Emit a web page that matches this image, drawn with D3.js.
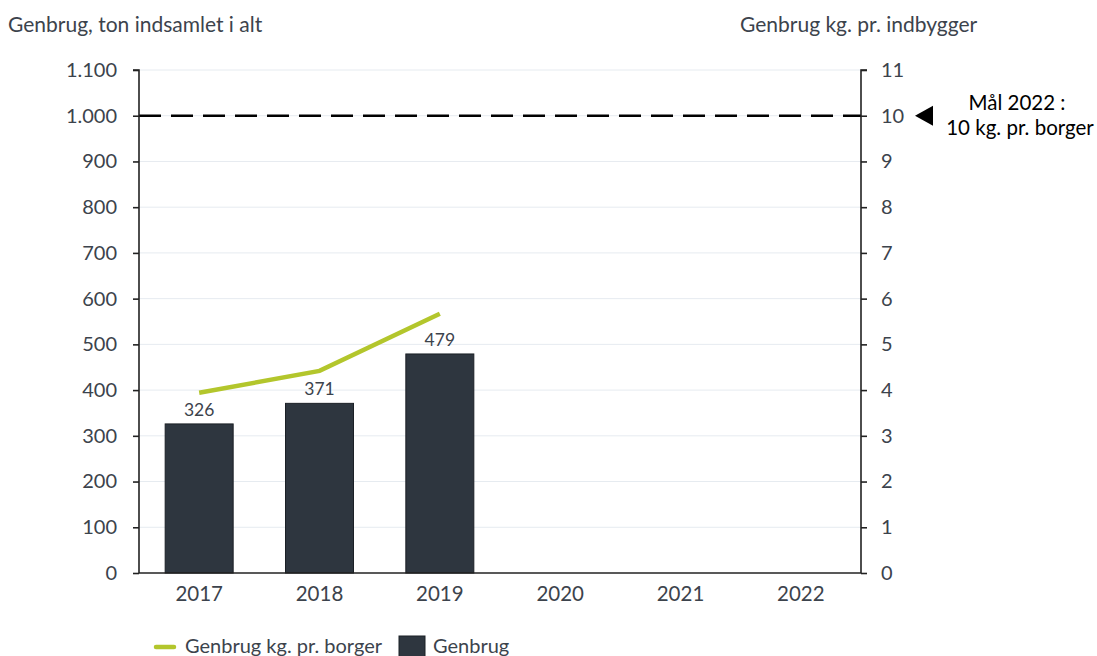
<!DOCTYPE html>
<html>
<head>
<meta charset="utf-8">
<script src="https://cdn.jsdelivr.net/npm/d3@7"></script>
<style>
body { margin: 0; background: #fff; }
svg text { font-family: Lato, "Open Sans", sans-serif; fill: #3c434c; }
</style>
</head>
<body>
<div id="chart"></div>
<script>
var years = ["2017", "2018", "2019", "2020", "2021", "2022"];
var tons = [326, 371, 479, null, null, null];
var kgPerCitizen = [3.94, 4.42, 5.67, null, null, null];
var leftTicks = [0, 100, 200, 300, 400, 500, 600, 700, 800, 900, 1000, 1100];
var rightTicks = [0, 1, 2, 3, 4, 5, 6, 7, 8, 9, 10, 11];
var goalKg = 10;

var width = 1097, height = 656;
var plotL = 139, plotR = 861, plotT = 70, plotB = 573;

var svg = d3.select("#chart").append("svg")
	.attr("width", width)
	.attr("height", height);

var x = d3.scaleBand().domain(years).range([plotL, plotR]).paddingInner(0.435).paddingOuter(0.2175);
var yL = d3.scaleLinear().domain([0, 1100]).range([plotB, plotT]);
var yR = d3.scaleLinear().domain([0, 11]).range([plotB, plotT]);
var fmt = function(d){ return d3.format(",")(d).replace(/,/g, "."); };

/* grid */
svg.append("g").selectAll("line").data(leftTicks.slice(1)).join("line")
	.attr("x1", plotL).attr("x2", plotR)
	.attr("y1", function(d){ return yL(d); }).attr("y2", function(d){ return yL(d); })
	.attr("style", "stroke:#e6ebf0; stroke-width:1px;");

/* bars */
var bd = years.map(function(y, i){ return {year: y, v: tons[i]}; }).filter(function(d){ return d.v != null; });
svg.append("g").selectAll("rect").data(bd).join("rect")
	.attr("x", function(d){ return x(d.year); })
	.attr("y", function(d){ return yL(d.v); })
	.attr("width", x.bandwidth())
	.attr("height", function(d){ return yL(0) - yL(d.v); })
	.attr("fill", "#2e363f")
	.attr("stroke", "#1b2026")
	.attr("stroke-width", 1);

svg.append("g").selectAll("text").data(bd).join("text")
	.attr("x", function(d){ return x(d.year) + x.bandwidth()/2; })
	.attr("y", function(d){ return yL(d.v) - 8; })
	.attr("text-anchor", "middle")
	.attr("font-size", 17.5)
	.text(function(d){ return d.v; });

/* line */
var ld = years.map(function(y, i){ return {year: y, v: kgPerCitizen[i]}; }).filter(function(d){ return d.v != null; });
svg.append("path").datum(ld)
	.attr("d", d3.line().x(function(d){ return x(d.year) + x.bandwidth()/2; }).y(function(d){ return yR(d.v); }))
	.attr("fill", "none")
	.attr("stroke", "#b3c62c")
	.attr("stroke-width", 4.5);

/* goal */
svg.append("line")
	.attr("x1", plotL).attr("x2", plotR)
	.attr("y1", yR(goalKg)).attr("y2", yR(goalKg))
	.attr("style", "stroke:#000; stroke-width:2.5px; stroke-dasharray:22,10;");

/* axes */
var axL = svg.append("g").attr("transform", "translate(" + plotL + ",0)")
	.call(d3.axisLeft(yL).tickValues(leftTicks).tickFormat(fmt).tickSize(6).tickPadding(16));
var axR = svg.append("g").attr("transform", "translate(" + plotR + ",0)")
	.call(d3.axisRight(yR).tickValues(rightTicks).tickSize(6).tickPadding(14));
var axB = svg.append("g").attr("transform", "translate(0," + plotB + ")")
	.call(d3.axisBottom(x).tickSize(0).tickPadding(13));
[axL, axR, axB].forEach(function(a){
	a.selectAll("path, line").attr("stroke", "#222").attr("stroke-width", 1.6);
	a.selectAll("text").attr("font-size", 20).attr("font-family", "Lato, sans-serif").attr("fill", "#3c434c");
});
axB.selectAll("text").attr("font-size", 20.5);
axL.select(".domain").attr("d", "M-6," + plotT + "H0V" + plotB);
axR.select(".domain").attr("d", "M6," + plotT + "H0V" + plotB);
axB.select(".domain").attr("d", "M" + plotL + ",0H" + plotR);

/* titles */
svg.append("text").attr("x", 8).attr("y", 32).attr("font-size", 21).text("Genbrug, ton indsamlet i alt");
svg.append("text").attr("x", 740).attr("y", 32).attr("font-size", 21).text("Genbrug kg. pr. indbygger");

/* goal note */
var gy = yR(goalKg);
svg.append("path")
	.attr("d", "M915," + gy + "L933," + (gy - 10) + "L933," + (gy + 10) + "Z")
	.attr("fill", "#000");
svg.append("text").attr("x", 1017).attr("y", gy - 6).attr("text-anchor", "middle").attr("font-size", 20.5).attr("style", "fill:#000").text("Mål 2022 :");
svg.append("text").attr("x", 1020).attr("y", gy + 19).attr("text-anchor", "middle").attr("font-size", 20.5).attr("style", "fill:#000").text("10 kg. pr. borger");

/* legend */
svg.append("line").attr("x1", 156).attr("x2", 174).attr("y1", 647).attr("y2", 647)
	.attr("stroke", "#b3c62c").attr("stroke-width", 4.5).attr("stroke-linecap", "round");
svg.append("text").attr("x", 185).attr("y", 653).attr("font-size", 20).text("Genbrug kg. pr. borger");
svg.append("rect").attr("x", 399).attr("y", 636).attr("width", 26).attr("height", 26)
	.attr("fill", "#2e363f").attr("stroke", "#1b2026");
svg.append("text").attr("x", 433).attr("y", 653).attr("font-size", 20).text("Genbrug");
</script>
</body>
</html>
